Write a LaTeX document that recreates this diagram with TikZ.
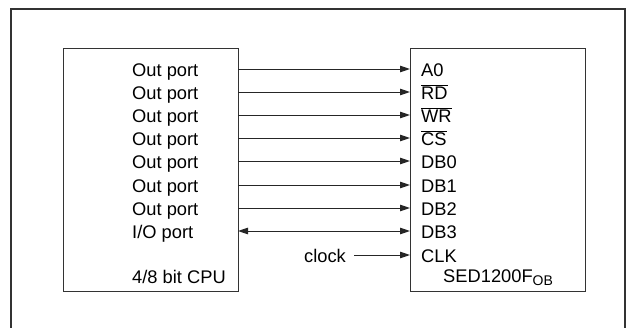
\documentclass[tikz,border=0pt]{standalone}
\usepackage{fontspec}
\setmainfont{Liberation Sans}
\usetikzlibrary{arrows.meta}
\begin{document}
\begin{tikzpicture}[x=1pt,y=-1pt,
  frame/.style={draw=black!80, line width=1.1pt},
  lbl/.style={anchor=base west, inner sep=0pt, font=\fontsize{18.3}{22}\selectfont},
  sig/.style={draw=black!85, line width=1pt, -{Triangle[length=10pt,width=6.5pt]}},
  bidir/.style={draw=black!85, line width=1pt, {Triangle[length=10pt,width=6.5pt]}-{Triangle[length=10pt,width=6.5pt]}}]
\useasboundingbox (0,0) rectangle (635,327);
\draw[frame] (11,340) -- (11,9) -- (625,9) -- (625,340);
\node[frame, minimum width=175pt, minimum height=243pt, inner sep=0pt, anchor=north west] (cpu) at (63,48) {};
\node[frame, minimum width=175pt, minimum height=243pt, inner sep=0pt, anchor=north west] (sed) at (410,48) {};
% CPU port labels
\foreach \i/\y/\t in {1/69/Out port,2/92/Out port,3/115/Out port,4/138/Out port,5/161/Out port,6/185/Out port,7/208/Out port,8/231/{I/O port}}{
  \node[lbl] (p\i) at (132,\y+7) {\t};
  \coordinate (l\i) at (238,\y);
  \coordinate (r\i) at (410,\y);
}
\node[lbl] (cputitle) at (132,283) {4/8 bit CPU};
% SED pin labels
\node[lbl] (s1) at (421,76) {A0};
\node[lbl] (s2) at (421,99) {$\overline{\mbox{RD}}$};
\node[lbl] (s3) at (421,122) {$\overline{\mbox{WR}}$};
\node[lbl] (s4) at (421,145) {$\overline{\mbox{CS}}$};
\node[lbl] (s5) at (421,168) {DB0};
\node[lbl] (s6) at (421,192) {DB1};
\node[lbl] (s7) at (421,215) {DB2};
\node[lbl] (s8) at (421,238) {DB3};
\node[lbl] (s9) at (421,262) {CLK};
\node[lbl] (sedtitle) at (443,282) {SED1200F\raisebox{-3.3pt}{\fontsize{14}{14}\selectfont OB}};
% connectors
\foreach \i in {1,...,7}{\draw[sig] (l\i) -- (r\i);}
\draw[bidir] (l8) -- (r8);
\node[lbl] (clk) at (304,262) {clock};
\coordinate (c1) at (354,255);
\coordinate (c2) at (410,255);
\draw[sig] (c1) -- (c2);
\end{tikzpicture}
\end{document}
